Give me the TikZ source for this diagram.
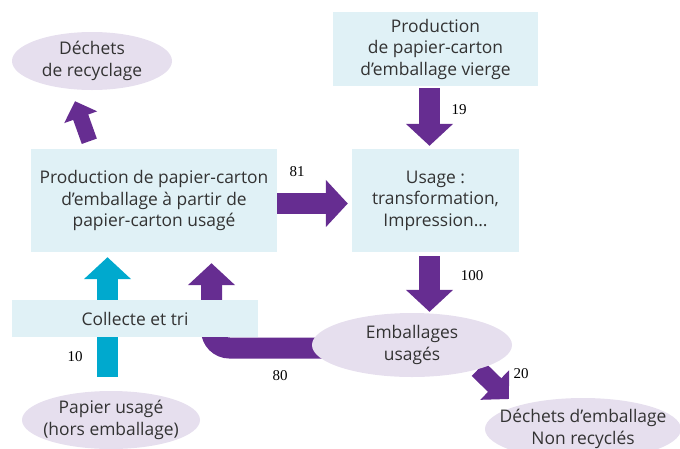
\documentclass[tikz,border=0pt]{standalone}
\usepackage{fontspec}
\setmainfont{Open Sans}
\newfontfamily\chiffres{Liberation Serif}
\usetikzlibrary{arrows.meta, shapes.geometric, backgrounds}
\definecolor{violetF}{HTML}{662D91}
\definecolor{cyanF}{HTML}{00A9CE}
\definecolor{fondboite}{HTML}{E0F1F6}
\definecolor{fondovale}{HTML}{E6DFEE}

\begin{document}
\begin{tikzpicture}[x=1pt,y=-1pt,
	boitebox/.style={fill=fondboite, inner sep=0pt, align=center, text=black!80, font=\fontsize{17.4}{21.5}\selectfont},
	ovale/.style={ellipse, fill=fondovale, inner xsep=-40pt, inner ysep=-20pt, align=center, text=black!80, font=\fontsize{17.4}{21.5}\selectfont},
	chiffre/.style={inner sep=0pt, font=\chiffres\fontsize{15}{15}\selectfont},
	fleche/.style={line width=21pt, draw=violetF, -{Triangle[length=22pt,width=46pt]}},
	fleche moyenne/.style={line width=19pt, draw=violetF, -{Triangle[length=20pt,width=40pt]}},
	petite fleche/.style={line width=16pt, draw=violetF, -{Triangle[length=17pt,width=34pt]}}]
	\useasboundingbox (0,0) rectangle (680,448);
	\node[ovale, minimum width=160pt, minimum height=58pt] (dr) at (92,61) {Déchets\\de recyclage}; %déchets
	\node[boitebox, minimum width=205pt, minimum height=74pt] (vierge) at (435.5,49) {Production\\de papier-carton\\d’emballage vierge};
	\node[boitebox, minimum width=246pt, minimum height=103pt] (prod) at (154,200.5) {Production de papier-carton\\d’emballage à partir de\\papier-carton usagé};
	\node[boitebox, minimum width=167pt, minimum height=103pt] (usage) at (435.5,200.5) {Usage~:\\transformation,\\Impression…};
	\node[boitebox, minimum width=246pt, minimum height=37pt] (tri) at (135,318.5) {Collecte et tri};
	\node[ovale, minimum width=200pt, minimum height=64pt] (emb) at (412,345) {Emballages\\usagés};
	\node[ovale, minimum width=196pt, minimum height=62pt] (dem) at (583,429) {Déchets d’emballage\\Non recyclés};
	\node[ovale, minimum width=178pt, minimum height=58pt] (pap) at (111,420) {Papier usagé\\(hors emballage)};
	\coordinate (pt20) at (509,399); %pointe 20
	\begin{scope}[on background layer]
		\draw[fleche, shorten <=2pt, shorten >=3pt] ([xshift=-6pt]vierge.south) -- ([xshift=-6pt]usage.north); %19
		\draw[fleche, shorten >=4pt] ([yshift=-3pt]prod.east) -- ([yshift=-3pt]usage.west); %81
		\draw[fleche, shorten <=4pt, shorten >=1pt] ([xshift=-6pt]usage.south) -- ([xshift=-6pt]usage.south |- emb.north); %100
		\draw[fleche moyenne] (emb.-20) -- (pt20); %20
		\draw[fleche, rounded corners=18pt, shorten >=11pt] ([yshift=-3pt]emb.center) -| ([xshift=57.5pt]prod.south); %80
		\draw[fleche, draw=cyanF, shorten <=14pt, shorten >=5pt] ([xshift=-3.5pt]pap.north) -- ([xshift=-46.5pt]prod.south); %10
		\draw[petite fleche, shorten <=8pt] ([xshift=-62pt]prod.north) -- ([xshift=-17pt,yshift=-11pt]dr.south);
	\end{scope}
	\node[chiffre] (n19) at (459,110) {19};
	\node[chiffre] (n81) at (297,172) {81};
	\node[chiffre] (n100) at (472,276) {100};
	\node[chiffre] (n20) at (521,374) {20};
	\node[chiffre] (n10) at (75,357) {10};
	\node[chiffre] (n80) at (280,376) {80};
\end{tikzpicture}
\end{document}
